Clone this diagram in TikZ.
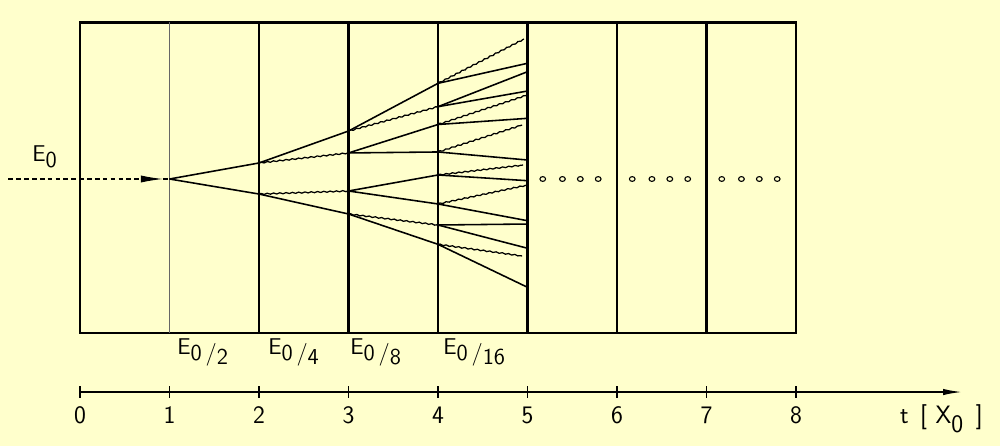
\documentclass[tikz,border=0pt]{standalone}
\usepackage{xcolor}
\usepackage{tikz}
\usetikzlibrary{arrows.meta,decorations.pathmorphing}
\definecolor{paper}{RGB}{255,255,204}

\begin{document}
\begin{tikzpicture}[x=2cm,y=2cm,font=\sffamily\fontsize{14.5}{16}\selectfont,
  wall/.style={line width=1.5pt},
  lepton/.style={line width=1pt},
  photon/.style={line width=0.8pt,decorate,decoration={snake,amplitude=0.35pt,segment length=4pt}},
  ring/.style={line width=0.7pt},
  elabel/.style={anchor=north west,inner sep=0pt},
  ticklabel/.style={anchor=base,inner sep=0pt,font=\sffamily\fontsize{16}{18}\selectfont}]
  \fill[paper] (-0.894,-2.983) rectangle (10.279,2.0);
  \useasboundingbox (-0.894,-2.983) rectangle (10.279,2.0);
  \draw[wall] (0,-1.72) rectangle (8,1.75);
  \foreach \t in {2,...,7}
    \draw[wall] (\t,-1.72) -- (\t,1.75);
  \draw[line width=1pt,black!60] (1,-1.72) -- (1,1.75);

  \coordinate (src) at (-0.8,0);
  \coordinate (tip) at (0.927,0);
  \coordinate (r)  at (1,0);
  \coordinate (a1) at (2,0.179);  \coordinate (a2) at (2,-0.168);
  \coordinate (b1) at (3,0.536);  \coordinate (b2) at (3,0.291);
  \coordinate (b3) at (3,-0.134); \coordinate (b4) at (3,-0.391);
  \coordinate (c1) at (4,1.069);  \coordinate (c2) at (4,0.808);
  \coordinate (c3) at (4,0.609);  \coordinate (c4) at (4,0.302);
  \coordinate (c5) at (4,0.045);  \coordinate (c6) at (4,-0.279);
  \coordinate (c7) at (4,-0.514); \coordinate (c8) at (4,-0.730);
  \coordinate (e1) at (4.96,1.564);  \coordinate (e2) at (5,1.293);
  \coordinate (e3) at (5,1.199);     \coordinate (e4) at (5,0.983);
  \coordinate (e5) at (5,0.939);     \coordinate (e6) at (5,0.678);
  \coordinate (e7) at (4.94,0.603);  \coordinate (e8) at (5,0.212);
  \coordinate (e9) at (4.95,0.156);  \coordinate (e10) at (5,-0.019);
  \coordinate (e11) at (5,-0.067);   \coordinate (e12) at (5,-0.466);
  \coordinate (e13) at (5,-0.503);   \coordinate (e14) at (5,-0.774);
  \coordinate (e15) at (4.94,-0.860); \coordinate (e16) at (5,-1.210);

  \draw[densely dashed,line width=0.7pt,-{Latex[length=14pt,width=4.5pt]}] (src) -- (tip);
  \draw[densely dashed,line width=0.7pt] (tip) -- (r);
  \foreach \a/\b in {r/a1,r/a2,a1/b1,a2/b4,b1/c1,b2/c3,b2/c4,b3/c5,b3/c6,b4/c8,
                     c1/e2,c2/e3,c2/e4,c3/e6,c4/e8,c5/e10,c6/e12,c7/e13,c7/e14,c8/e16}
    \draw[lepton] (\a) -- (\b);
  \foreach \a/\b in {a1/b2,a2/b3,b1/c2,b4/c7,c1/e1,c3/e5,c4/e7,c5/e9,c6/e11,c8/e15}
    \draw[photon] (\a) -- (\b);

  \foreach \c in {5,6,7}
    \foreach \d in {0.17,0.39,0.59,0.79}
      \draw[ring] (\c+\d,0) ellipse [x radius=0.032,y radius=0.027];

  \node[elabel] (e0)  at (-0.536,0.38) {E\raisebox{-0.6ex}{0}};
  \node[elabel] (eh)  at (1.084,-1.777) {E\raisebox{-0.6ex}{0\,/\raisebox{-0.4ex}{2}}};
  \node[elabel] (eq)  at (2.10,-1.777)  {E\raisebox{-0.6ex}{0\,/\raisebox{-0.4ex}{4}}};
  \node[elabel] (ee)  at (3.017,-1.777) {E\raisebox{-0.6ex}{0\,/\raisebox{-0.4ex}{8}}};
  \node[elabel] (es)  at (4.056,-1.777) {E\raisebox{-0.6ex}{0\,/\raisebox{-0.4ex}{16}}};

  \coordinate (ax0) at (0,-2.38);
  \coordinate (axend) at (9.855,-2.38);
  \draw[line width=1pt,-{Latex[length=12pt,width=4pt]}] (ax0) -- (axend);
  \foreach \t in {0,...,8}{
    \draw[line width=1pt] (\t,-2.315) -- (\t,-2.445);
    \node[ticklabel] (n\t) at (\t,-2.732) {\t};
  }
  \node[ticklabel,anchor=base west] (tx) at (9.16,-2.732)
    {t\hspace{0.45em}[\hspace{0.35em}X\raisebox{-0.8ex}{0}\hspace{0.5em}]};
\end{tikzpicture}
\end{document}
